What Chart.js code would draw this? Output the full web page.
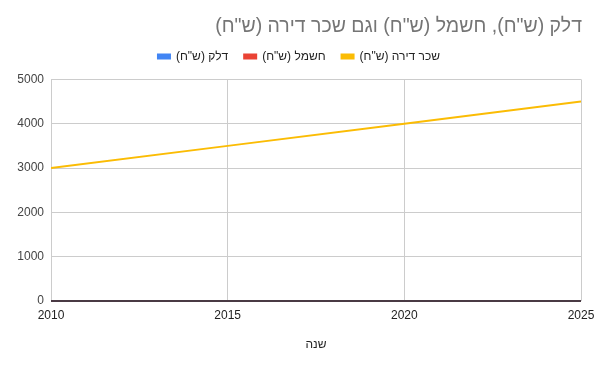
<!DOCTYPE html>
<html>
<head>
<meta charset="utf-8">
<script src="https://cdn.jsdelivr.net/npm/chart.js@4/dist/chart.umd.min.js"></script>
<style>
  html, body { margin: 0; padding: 0; background: #fff; }
  #wrap { width: 598px; height: 368px; position: relative; }
  canvas { direction: rtl; }
</style>
</head>
<body>
<div id="wrap"><canvas id="c" dir="rtl" width="598" height="368"></canvas></div>
<script>
const titleText = 'דלק (ש"ח), חשמל (ש"ח) וגם שכר דירה (ש"ח)';
const xAxisTitle = 'שנה';
const years = [2010, 2015, 2020, 2025];
const seriesNames = ['דלק (ש"ח)', 'חשמל (ש"ח)', 'שכר דירה (ש"ח)'];
const fuel = [0, 0, 0, 0];
const electricity = [0, 0, 0, 0];
const rent = [3000, 3500, 4000, 4500];
const yTicks = [0, 1000, 2000, 3000, 4000, 5000];
const xTicks = [2010, 2015, 2020, 2025];

const colors = ['#4285f4', '#ea4335', '#fbbc04'];
const seriesValues = [fuel, electricity, rent];

const datasets = seriesNames.map((name, i) => ({
  label: name,
  data: years.map((y, j) => ({ x: y, y: seriesValues[i][j] })),
  borderColor: colors[i],
  backgroundColor: colors[i],
  borderWidth: 2,
  pointRadius: 0,
  pointHoverRadius: 0,
  tension: 0
}));

const layoutFix = {
  id: 'layoutFix',
  beforeInit(chart) {
    const origFit = chart.legend.fit;
    chart.legend.fit = function () {
      origFit.call(this);
      this.height += 7;
    };
    const tb = chart.titleBlock;
    const origDraw = tb.draw;
    tb.draw = function () {
      const ctx = this.ctx;
      ctx.save();
      ctx.translate(-16, 0);
      origDraw.call(this);
      ctx.restore();
    };
  }
};

const baseline = {
  id: 'baseline',
  afterDatasetsDraw(chart) {
    const { ctx, chartArea, scales } = chart;
    const y0 = scales.y.getPixelForValue(0);
    ctx.save();
    ctx.strokeStyle = '#4a3a44';
    ctx.lineWidth = 2;
    ctx.beginPath();
    ctx.moveTo(chartArea.left, y0);
    ctx.lineTo(chartArea.right, y0);
    ctx.stroke();
    ctx.restore();
  }
};

new Chart(document.getElementById('c'), {
  type: 'line',
  data: { datasets },
  plugins: [layoutFix, baseline],
  options: {
    responsive: false,
    animation: false,
    events: [],
    layout: { padding: { left: 0, right: 0, top: 0, bottom: 0 } },
    font: { family: '"Liberation Sans", Arial, sans-serif' },
    plugins: {
      title: {
        display: true,
        text: titleText,
        align: 'end',
        color: '#757575',
        font: { family: '"Liberation Sans", Arial, sans-serif', size: 19.5, weight: 'normal' },
        padding: { top: 15, bottom: -4 }
      },
      legend: {
        display: true,
        position: 'top',
        align: 'center',
        textDirection: 'rtl',
        labels: {
          boxWidth: 12,
          boxHeight: 4,
          padding: 16,
          color: '#222222',
          font: { family: '"Liberation Sans", Arial, sans-serif', size: 12 }
        }
      },
      tooltip: { enabled: false }
    },
    scales: {
      x: {
        type: 'linear',
        min: 2010,
        max: 2025,
        afterFit(scale) { scale.height = 67; scale.paddingRight = 17; scale.paddingLeft = 0; },
        afterBuildTicks(scale) { scale.ticks = xTicks.map(v => ({ value: v })); },
        border: { display: false },
        grid: { color: '#cccccc', drawTicks: false, lineWidth: 1 },
        ticks: {
          padding: 7,
          color: '#222222',
          maxRotation: 0,
          autoSkip: false,
          font: { family: '"Liberation Sans", Arial, sans-serif', size: 12 },
          callback: v => String(v)
        },
        title: {
          display: true,
          text: xAxisTitle,
          color: '#222222',
          font: { family: '"Liberation Sans", Arial, sans-serif', size: 12 },
          padding: { top: 0, bottom: 16 }
        }
      },
      y: {
        min: 0,
        max: 5000,
        afterFit(scale) { scale.width = 51; },
        afterBuildTicks(scale) { scale.ticks = yTicks.map(v => ({ value: v })); },
        border: { display: false },
        grid: { color: '#cccccc', drawTicks: false, lineWidth: 1 },
        ticks: {
          padding: 7,
          color: '#444444',
          font: { family: '"Liberation Sans", Arial, sans-serif', size: 12 },
          callback: v => String(v)
        }
      }
    }
  }
});
</script>
</body>
</html>
